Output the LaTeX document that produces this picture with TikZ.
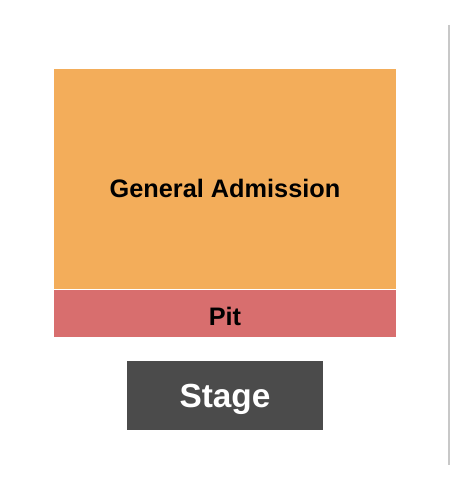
\documentclass[tikz,border=0pt]{standalone}
\usepackage{fontspec}
\setmainfont{Liberation Sans}
\definecolor{gacolor}{HTML}{F3AD5A}
\definecolor{pitcolor}{HTML}{D86E6E}
\definecolor{stagecolor}{HTML}{4B4B4B}
\definecolor{edgecolor}{HTML}{C8C8C8}
\begin{document}
\begin{tikzpicture}[x=0.02cm,y=-0.02cm,
  label/.style={font=\bfseries\fontsize{14.4}{16}\selectfont}]
\useasboundingbox (0,0) rectangle (450,500);
% general admission
\fill[gacolor] (54,69) rectangle (396,289);
\draw (225,188) node[label] (ga) {General Admission};
% pit
\fill[pitcolor] (54,290) rectangle (396,337);
\draw (225,316) node[label] (pit) {Pit};
% stage
\fill[stagecolor] (127,361) rectangle (323,430);
\draw (225,399) node[label,text=white,font=\bfseries\fontsize{19}{22}\selectfont] (stage) {Stage};
% right edge
\draw[edgecolor,line width=0.6pt] (449,25)--(449,465);
\end{tikzpicture}
\end{document}
